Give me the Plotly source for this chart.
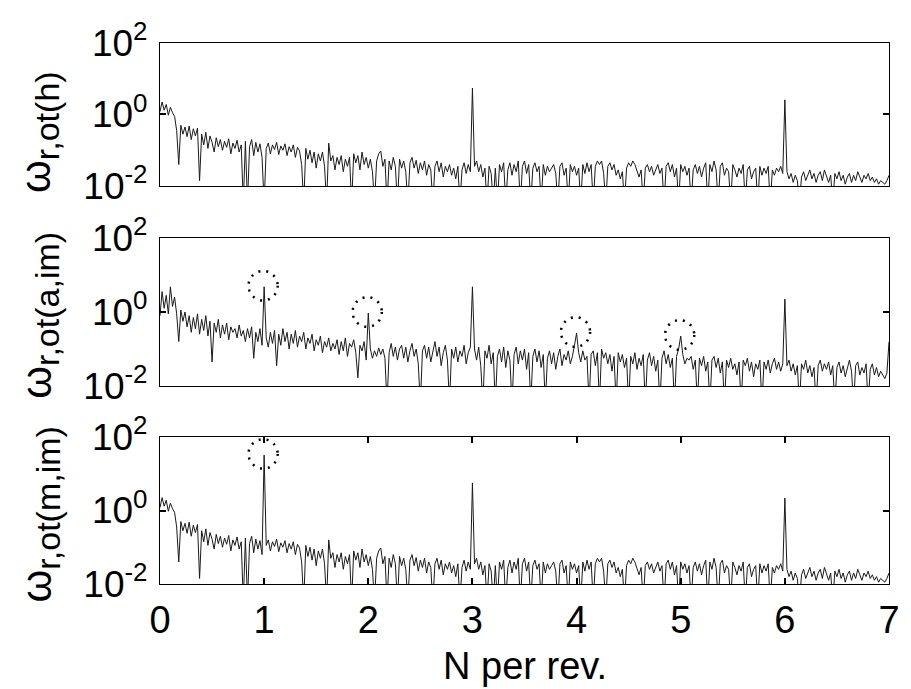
import plotly.graph_objects as go

# ---------------- data (log10 of amplitude) ----------------
N_STEP = 0.02  # spectral resolution in "N per rev."

h_log = [
    0.08, 0.35, 0.12, 0.28, -0.02, 0.20, 0.05, -0.05, -0.45, -1.40,
    -0.30, -0.55, -0.35, -0.62, -0.32, -0.70, -0.40, -0.60, -0.38, -1.85,
    -0.55, -0.85, -0.50, -0.95, -0.60, -0.78, -1.05, -0.65, -0.90, -0.70,
    -1.00, -0.75, -0.92, -0.68, -1.10, -0.80, -0.95, -0.72, -1.05, -0.85,
    -2.50, -0.75, -2.50, -0.90, -0.70, -1.15, -0.78, -1.05, -0.82, -1.20,
    -2.50, -0.95, -0.80, -1.10, -0.85, -0.98, -0.78, -1.12, -0.88, -1.00,
    -0.82, -1.15, -0.90, -1.05, -0.85, -1.20, -0.92, -1.02, -1.40, -2.50,
    -0.95, -1.25, -1.00, -1.35, -1.05, -1.50, -1.10, -1.30, -1.05, -1.45,
    -2.50, -0.80, -1.30, -1.15, -1.55, -1.20, -1.40, -1.15, -1.60, -1.25,
    -1.45, -1.20, -2.50, -1.10, -1.35, -1.15, -1.55, -1.05, -1.40, -1.20,
    -1.50, -1.25, -1.60, -2.50, -1.30, -1.10, -1.02, -1.45, -1.25, -2.50,
    -1.30, -1.55, -1.20, -1.45, -2.50, -1.25, -1.50, -1.30, -1.60, -2.50,
    -1.35, -1.20, -1.50, -1.28, -1.65, -1.35, -1.55, -1.30, -1.70, -1.40,
    -1.55, -2.50, -1.45, -1.30, -1.60, -1.35, -1.75, -1.45, -1.60, -1.40,
    -1.70, -1.50, -1.80, -1.45, -2.50, -1.55, -1.35, -1.65, -1.40, -1.60,
    0.74, -1.45, -1.30, -1.60, -1.40, -1.75, -1.50, -2.50, -1.45, -1.65,
    -2.50, -1.50, -2.50, -1.40, -1.60, -1.35, -2.50, -1.55, -1.35, -1.70,
    -1.40, -1.60, -1.30, -2.50, -1.45, -1.30, -1.65, -1.40, -2.50, -1.50,
    -1.35, -1.60, -1.45, -2.50, -1.40, -1.70, -1.45, -1.60, -1.50, -1.40,
    -1.65, -2.50, -1.45, -1.35, -1.70, -1.50, -2.50, -1.40, -1.60, -1.45,
    -1.70, -1.50, -2.50, -1.40, -1.65, -1.35, -1.60, -1.40, -2.50, -1.45,
    -1.30, -1.40, -1.30, -1.65, -2.50, -1.45, -1.35, -1.55, -1.40, -1.70,
    -1.55, -1.80, -1.60, -2.50, -1.50, -1.35, -1.45, -1.30, -1.40, -1.60,
    -1.75, -1.55, -2.50, -1.50, -1.40, -1.60, -1.45, -1.70, -1.55, -1.40,
    -1.65, -1.50, -2.50, -1.45, -1.35, -1.60, -1.40, -1.75, -1.50, -2.50,
    -1.40, -1.60, -1.45, -1.70, -1.50, -2.50, -1.55, -1.40, -1.65, -1.45,
    -1.75, -1.50, -1.35, -2.50, -1.40, -1.60, -1.30, -1.55, -2.50, -1.45,
    -1.35, -1.70, -1.50, -1.60, -2.50, -1.40, -1.55, -1.75, -1.50, -1.65,
    -1.40, -2.50, -1.55, -1.45, -1.80, -1.60, -1.50, -2.50, -1.45, -1.70,
    -1.50, -1.65, -1.45, -2.50, -1.55, -1.70, -1.50, -1.60, -1.45, -1.65,
    0.41, -1.60, -1.80, -1.65, -1.90, -1.70, -1.85, -2.50, -1.75, -1.60,
    -1.85, -1.70, -1.55, -1.80, -1.65, -1.90, -1.70, -1.60, -1.85, -1.55,
    -1.75, -1.90, -1.70, -2.50, -1.65, -1.80, -1.60, -1.85, -1.70, -1.95,
    -1.75, -1.65, -1.90, -1.70, -1.85, -1.60, -1.75, -1.90, -1.70, -1.80,
    -1.65, -1.85, -1.75, -1.90, -1.80, -1.95, -1.85, -1.90, -1.95, -1.85,
    -1.70,
]

a_im_log = [
    -0.10, 0.55, 0.10, 0.45, -0.05, 0.68, 0.15, 0.40, -0.05, -0.80,
    0.05, -0.25, 0.00, -0.40, -0.10, -0.55, -0.15, -0.45, -0.05, -0.60,
    -0.20, -0.50, -0.10, -0.65, -0.25, -1.35, -0.30, -0.55, -0.20, -0.70,
    -0.35, -0.60, -0.30, -0.75, -0.40, -0.55, -0.45, -0.70, -0.35, -0.65,
    -0.50, -0.80, -0.45, -0.70, -0.40, -1.25, -0.55, -0.80, -0.45, -0.90,
    0.68, -0.70, -0.95, -0.55, -0.85, -0.50, -1.45, -0.60, -0.90, -0.45,
    -0.80, -0.55, -1.00, -0.60, -0.85, -0.50, -0.95, -0.65, -0.80, -0.55,
    -1.00, -0.70, -0.85, -0.60, -1.05, -0.75, -0.90, -0.65, -1.10, -0.80,
    -0.95, -0.70, -1.05, -0.85, -1.00, -0.75, -1.15, -0.80, -1.05, -0.70,
    -1.20, -0.85, -0.95, -0.75, -1.10, -1.78, -0.90, -1.05, -0.80, -1.30,
    -0.03, -1.00, -1.25, -1.05, -1.20, -0.97, -1.15, -1.00, -1.25, -2.50,
    -1.10, -0.85, -1.20, -0.95, -1.30, -1.00, -0.90, -1.25, -0.95, -1.35,
    -1.05, -0.85, -1.20, -1.00, -1.40, -2.50, -1.05, -0.90, -1.25, -0.95,
    -1.35, -1.10, -0.80, -1.20, -0.95, -1.45, -1.10, -0.90, -1.30, -2.50,
    -1.00, -1.25, -0.95, -1.35, -1.05, -1.20, -0.90, -1.40, -1.10, -0.95,
    0.68, -1.00, -1.30, -0.95, -1.45, -2.50, -1.05, -1.25, -0.90, -1.40,
    -1.10, -2.50, -1.20, -1.00, -1.35, -0.95, -1.50, -1.05, -1.30, -2.50,
    -1.15, -0.95, -1.40, -1.05, -1.30, -1.00, -1.55, -1.10, -2.50, -1.20,
    -1.00, -1.35, -1.05, -1.50, -1.15, -2.50, -1.25, -1.05, -1.40, -1.10,
    -1.55, -1.20, -1.00, -1.45, -1.15, -1.30, -1.05, -1.40, -1.20, -0.90,
    -0.57, -1.10, -1.35, -1.05, -1.30, -1.20, -2.50, -1.15, -1.05, -1.45,
    -1.10, -2.50, -1.00, -1.25, -1.10, -1.40, -1.15, -1.60, -1.20, -2.50,
    -1.10, -1.35, -1.15, -1.50, -1.25, -2.50, -1.20, -1.40, -1.10, -1.55,
    -1.25, -1.45, -1.15, -2.50, -1.30, -1.10, -1.45, -1.20, -1.60, -1.30,
    -2.50, -1.25, -1.05, -1.40, -1.15, -1.50, -1.25, -2.50, -1.20, -1.00,
    -0.65, -1.15, -1.40, -1.25, -1.30, -1.20, -1.55, -1.30, -2.50, -1.25,
    -1.45, -1.20, -1.60, -1.35, -2.50, -1.30, -1.20, -1.50, -1.25, -1.65,
    -1.35, -2.50, -1.30, -1.50, -1.25, -1.55, -1.40, -1.70, -1.35, -2.50,
    -1.30, -1.45, -1.25, -1.60, -1.35, -1.75, -1.40, -1.55, -1.30, -2.50,
    -1.35, -1.55, -1.30, -1.65, -1.40, -1.25, -1.55, -1.35, -1.60, -1.40,
    0.35, -1.45, -1.30, -1.60, -1.40, -1.70, -1.45, -2.50, -1.40, -1.55,
    -1.30, -1.65, -1.45, -1.75, -1.50, -2.50, -1.45, -1.30, -1.60, -1.40,
    -1.55, -1.35, -1.70, -1.45, -2.50, -1.50, -1.35, -1.65, -1.45, -1.75,
    -1.50, -1.30, -1.60, -2.50, -1.45, -1.35, -1.70, -1.50, -1.65, -1.40,
    -2.50, -1.55, -1.40, -1.70, -1.50, -1.75, -1.60, -1.70, -1.80, -1.65,
    -0.81,
]

m_im_log = [
    0.08, 0.35, 0.12, 0.28, -0.02, 0.20, 0.05, -0.05, -0.45, -1.40,
    -0.30, -0.55, -0.35, -0.62, -0.32, -0.70, -0.40, -0.60, -0.38, -1.85,
    -0.55, -0.85, -0.50, -0.95, -0.60, -0.78, -1.05, -0.65, -0.90, -0.70,
    -1.00, -0.75, -0.92, -0.68, -1.10, -0.80, -0.95, -0.72, -1.05, -0.85,
    -2.50, -0.75, -2.50, -0.90, -0.70, -1.15, -0.78, -1.05, -0.82, -1.20,
    1.51, -0.95, -0.80, -1.10, -0.85, -0.98, -0.78, -1.12, -0.88, -1.00,
    -0.82, -1.15, -0.90, -1.05, -0.85, -1.20, -0.92, -1.02, -1.40, -2.50,
    -0.95, -1.25, -1.00, -1.35, -1.05, -1.50, -1.10, -1.30, -1.05, -1.45,
    -2.50, -0.80, -1.30, -1.15, -1.55, -1.20, -1.40, -1.15, -1.60, -1.25,
    -1.45, -1.20, -2.50, -1.10, -1.35, -1.15, -1.55, -1.05, -1.40, -1.20,
    -1.50, -1.25, -1.60, -2.50, -1.30, -1.10, -1.02, -1.45, -1.25, -2.50,
    -1.30, -1.55, -1.20, -1.45, -2.50, -1.25, -1.50, -1.30, -1.60, -2.50,
    -1.35, -1.20, -1.50, -1.28, -1.65, -1.35, -1.55, -1.30, -1.70, -1.40,
    -1.55, -2.50, -1.45, -1.30, -1.60, -1.35, -1.75, -1.45, -1.60, -1.40,
    -1.70, -1.50, -1.80, -1.45, -2.50, -1.55, -1.35, -1.65, -1.40, -1.60,
    0.75, -1.45, -1.30, -1.60, -1.40, -1.75, -1.50, -2.50, -1.45, -1.65,
    -2.50, -1.50, -2.50, -1.40, -1.60, -1.35, -2.50, -1.55, -1.35, -1.70,
    -1.40, -1.60, -1.30, -2.50, -1.45, -1.30, -1.65, -1.40, -2.50, -1.50,
    -1.35, -1.60, -1.45, -2.50, -1.40, -1.70, -1.45, -1.60, -1.50, -1.40,
    -1.65, -2.50, -1.45, -1.35, -1.70, -1.50, -2.50, -1.40, -1.60, -1.45,
    -1.70, -1.50, -2.50, -1.40, -1.65, -1.35, -1.60, -1.40, -2.50, -1.45,
    -1.30, -1.40, -1.30, -1.65, -2.50, -1.45, -1.35, -1.55, -1.40, -1.70,
    -1.55, -1.80, -1.60, -2.50, -1.50, -1.35, -1.45, -1.30, -1.40, -1.60,
    -1.75, -1.55, -2.50, -1.50, -1.40, -1.60, -1.45, -1.70, -1.55, -1.40,
    -1.65, -1.50, -2.50, -1.45, -1.35, -1.60, -1.40, -1.75, -1.50, -2.50,
    -1.40, -1.60, -1.45, -1.70, -1.50, -2.50, -1.55, -1.40, -1.65, -1.45,
    -1.75, -1.50, -1.35, -2.50, -1.40, -1.60, -1.30, -1.55, -2.50, -1.45,
    -1.35, -1.70, -1.50, -1.60, -2.50, -1.40, -1.55, -1.75, -1.50, -1.65,
    -1.40, -2.50, -1.55, -1.45, -1.80, -1.60, -1.50, -2.50, -1.45, -1.70,
    -1.50, -1.65, -1.45, -2.50, -1.55, -1.70, -1.50, -1.60, -1.45, -1.65,
    0.34, -1.60, -1.80, -1.65, -1.90, -1.70, -1.85, -2.50, -1.75, -1.60,
    -1.85, -1.70, -1.55, -1.80, -1.65, -1.90, -1.70, -1.60, -1.85, -1.55,
    -1.75, -1.90, -1.70, -2.50, -1.65, -1.80, -1.60, -1.85, -1.70, -1.95,
    -1.75, -1.65, -1.90, -1.70, -1.85, -1.60, -1.75, -1.90, -1.70, -1.80,
    -1.65, -1.85, -1.75, -1.90, -1.80, -1.95, -1.85, -1.90, -1.95, -1.85,
    -1.70,
]

# harmonics marked with dotted circles (N per rev.)
circled_a_im = [1, 2, 4, 5]
circled_m_im = [1]

panel_titles = ["r,ot(h)", "r,ot(a,im)", "r,ot(m,im)"]
y_tick_vals = [0.01, 1, 100]
y_tick_text = ["10<sup>-2</sup>", "10<sup>0</sup>", "10<sup>2</sup>"]
x_tick_vals = [0, 1, 2, 3, 4, 5, 6, 7]
x_title = "N per rev."

# ---------------- figure ----------------
FONT = "Liberation Sans, Arial, Helvetica, sans-serif"
series = [h_log, a_im_log, m_im_log]
domains = [[0.7357, 1.0], [0.366, 0.6396], [0.0, 0.2717]]

fig = go.Figure()
for k, vals in enumerate(series):
    n = [round(i * N_STEP, 4) for i in range(len(vals))]
    amp = [10 ** v for v in vals]
    fig.add_trace(go.Scatter(
        x=n, y=amp, mode="lines",
        line=dict(color="#1a1a1a", width=1),
        xaxis=f"x{k+1}" if k else "x", yaxis=f"y{k+1}" if k else "y",
        showlegend=False, hoverinfo="skip",
    ))

layout = dict(
    width=911, height=689,
    margin=dict(l=160, r=11, t=43, b=105),
    paper_bgcolor="white", plot_bgcolor="white",
    font=dict(family=FONT, size=38, color="black"),
    showlegend=False,
)

for k in range(3):
    sx = "" if k == 0 else str(k + 1)
    last = (k == 2)
    layout[f"xaxis{sx}"] = dict(
        domain=[0, 1], anchor=f"y{sx}", range=[0, 7],
        showline=True, linecolor="black", linewidth=1.2,
        mirror="ticks" if last else True,
        showgrid=False, zeroline=False,
        ticks="inside" if last else "", ticklen=6, tickwidth=2, tickcolor="black",
        tickvals=x_tick_vals, showticklabels=last,
        tickfont=dict(size=38, family=FONT),
        ticklabelstandoff=2,
    )
    layout[f"yaxis{sx}"] = dict(
        domain=domains[k], anchor=f"x{sx}", type="log", range=[-2, 2],
        showline=True, linecolor="black", linewidth=1.2, mirror="ticks",
        showgrid=False, zeroline=False,
        ticks="inside", ticklen=6, tickwidth=2, tickcolor="black",
        tickvals=y_tick_vals, ticktext=y_tick_text,
        tickfont=dict(size=37, family=FONT),
        ticklabelstandoff=4,
    )

fig.update_layout(**layout)

# y-axis titles
title_y = [0.835, 0.497, 0.128]
for k, t in enumerate(panel_titles):
    fig.add_annotation(
        xref="paper", yref="paper", x=-0.165, y=title_y[k],
        text=f'ω<sub><span style="font-size:34px">{t}</span></sub>',
        textangle=-90, showarrow=False, xanchor="center", yanchor="middle",
        font=dict(size=42, family=FONT, color="black"),
    )

# x-axis title
fig.add_annotation(
    xref="paper", yref="paper", x=0.5, y=-0.152, text=x_title,
    showarrow=False, xanchor="center", yanchor="middle",
    font=dict(size=38, family=FONT, color="black"),
)

# dotted circles around the marked harmonics (data-unit extent on log axes)
CIRC_HALF_W = 0.15   # N per rev.
CIRC_HALF_H = 0.40   # decades


def add_circles(peaks, vals, xr, yr):
    for p in peaks:
        idx = int(round(p / N_STEP))
        top = vals[idx]
        fig.add_shape(
            type="circle", xref=xr, yref=yr,
            x0=p - CIRC_HALF_W, x1=p + CIRC_HALF_W - 0.02,
            y0=10 ** (top - CIRC_HALF_H + 0.03), y1=10 ** (top + CIRC_HALF_H + 0.03),
            line=dict(color="black", width=2.5, dash="2px,6px"),
        )


add_circles(circled_a_im, a_im_log, "x2", "y2")
add_circles(circled_m_im, m_im_log, "x3", "y3")

fig.write_html("out.html")
